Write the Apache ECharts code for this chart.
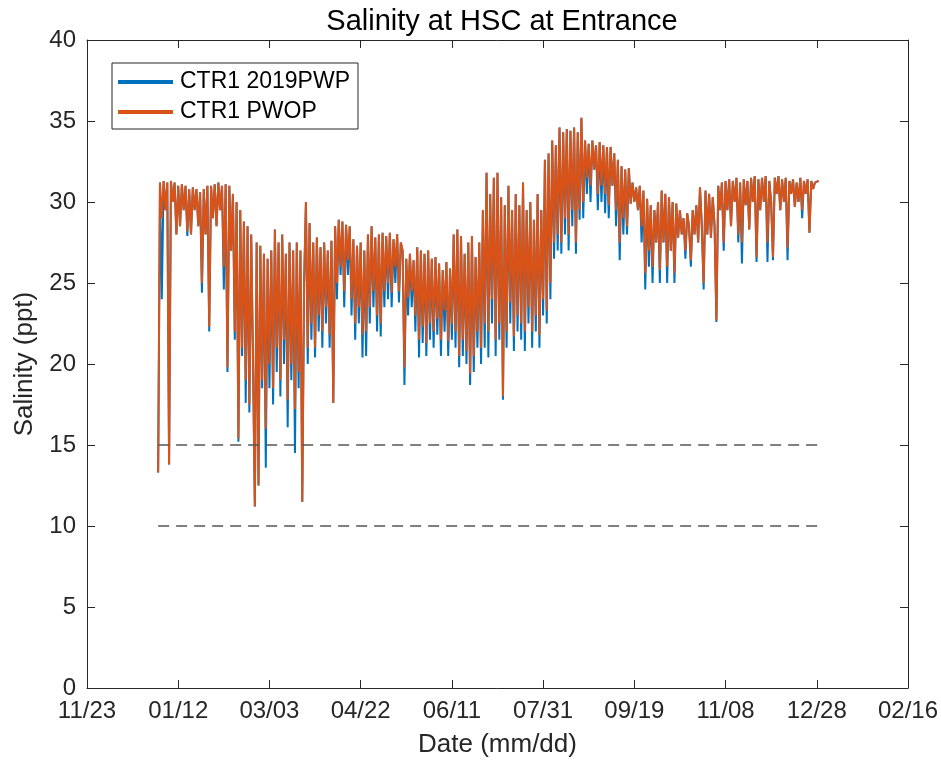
<!DOCTYPE html>
<html>
<head>
<meta charset="utf-8">
<script src="https://cdn.jsdelivr.net/npm/echarts@6/dist/echarts.min.js"></script>
<style>
html, body { margin: 0; padding: 0; background: #fff; }
#chart { width: 941px; height: 766px; }
</style>
</head>
<body>
<div id="chart"></div>
<script>
// x axis counts days from 11/23/2018, samples are daily from 01/01/2019
var axisStart = Date.UTC(2018, 10, 23);
var dataStartDay = 39;
var seriesNames = ['CTR1 2019PWP', 'CTR1 PWOP'];
var thresholds = [15, 10];
var thresholdSpan = [39, 401];

// CTR1 2019PWP (blue)
var pwpSalinity = [
    13.3, 31.2, 24.0, 31.3, 29.5, 31.2, 13.8, 31.3, 30.0, 31.2,
    28.0, 31.0, 28.5, 31.1, 29.5, 31.0, 27.9, 30.8, 28.0, 30.9,
    29.5, 30.8, 28.5, 30.6, 24.4, 30.8, 28.0, 31.0, 22.0, 31.0,
    29.0, 31.1, 28.5, 31.2, 29.5, 31.0, 24.6, 31.1, 19.5, 31.0,
    27.0, 30.5, 21.5, 30.0, 15.2, 29.5, 20.5, 28.8, 17.6, 28.5,
    17.0, 28.0, 20.0, 11.2, 27.5, 12.5, 27.3, 18.5, 26.8, 13.6,
    26.5, 18.5, 27.0, 17.5, 28.3, 19.5, 27.5, 18.0, 28.0, 20.0,
    26.8, 16.1, 27.5, 19.0, 27.0, 14.5, 27.5, 18.5, 27.0, 11.5,
    25.0, 30.0, 20.0, 28.7, 21.5, 27.5, 20.4, 27.8, 22.0, 27.2,
    21.0, 27.5, 22.5, 27.0, 21.0, 27.6, 17.6, 28.5, 24.0, 28.9,
    25.5, 28.8, 23.5, 28.6, 25.5, 28.5, 23.0, 27.7, 21.5, 27.3,
    22.5, 27.5, 20.4, 27.0, 20.5, 28.0, 22.5, 28.5, 23.5, 27.8,
    22.0, 28.0, 21.7, 28.1, 23.5, 27.9, 24.0, 28.1, 23.5, 27.7,
    25.0, 28.0, 23.8, 27.5, 27.0, 18.7, 26.5, 23.0, 26.8, 23.5,
    26.4, 22.0, 27.2, 20.4, 27.0, 21.3, 26.8, 20.5, 27.0, 21.5,
    26.5, 21.0, 26.6, 21.8, 26.2, 20.5, 25.8, 22.0, 26.3, 20.5,
    25.9, 21.5, 28.0, 21.0, 28.3, 19.8, 27.9, 20.5, 26.8, 20.0,
    27.5, 18.7, 27.9, 19.5, 26.6, 21.0, 27.5, 20.0, 29.5, 21.0,
    31.8, 20.4, 30.5, 22.5, 31.5, 20.5, 31.8, 21.5, 30.3, 17.8,
    29.8, 21.0, 31.0, 22.5, 29.5, 20.8, 30.5, 22.0, 29.8, 21.5,
    31.2, 20.8, 29.5, 22.5, 30.0, 21.0, 28.9, 22.0, 30.5, 21.0,
    29.5, 23.0, 32.6, 22.5, 33.0, 24.0, 33.8, 26.5, 33.5, 27.0,
    34.6, 26.8, 34.3, 28.0, 34.5, 27.0, 34.4, 28.5, 34.6, 26.8,
    34.3, 28.9, 35.2, 29.0, 33.8, 30.5, 33.6, 30.0, 33.8, 32.0,
    33.5, 29.5, 33.7, 30.0, 33.5, 29.3, 33.4, 29.0, 33.4, 31.0,
    33.0, 28.5, 32.6, 26.4, 32.2, 28.0, 32.0, 28.0, 32.1, 29.9,
    31.2, 30.0, 30.9, 29.5, 31.0, 27.5, 30.7, 24.6, 30.2, 26.0,
    29.8, 25.0, 29.5, 27.5, 30.0, 25.0, 30.7, 27.5, 30.5, 25.0,
    30.3, 27.0, 30.0, 25.0, 29.9, 27.8, 29.5, 28.0, 29.0, 26.5,
    29.3, 28.5, 26.0, 29.5, 28.0, 29.8, 27.5, 30.9, 28.5, 24.6,
    30.7, 28.0, 30.5, 27.8, 30.3, 28.5, 22.6, 31.0, 29.5, 31.2,
    27.0, 31.3, 29.5, 31.4, 28.5, 31.3, 30.0, 31.5, 27.5, 31.2,
    26.2, 31.4, 29.8, 31.3, 28.3, 31.5, 30.0, 31.6, 26.3, 31.4,
    29.5, 31.5, 30.0, 31.6, 26.3, 31.3, 30.0, 26.4, 31.5, 30.5,
    31.6, 29.5, 31.4, 30.0, 31.5, 26.4, 31.3, 30.5, 31.4, 29.7,
    31.2, 30.0, 31.5, 29.0, 31.3, 30.5, 31.4, 28.1, 31.3, 30.8,
    31.2, 31.3, 31.3
];

// CTR1 PWOP (orange)
var pwopSalinity = [
    13.3, 31.2, 29.0, 31.3, 29.5, 31.2, 13.8, 31.3, 30.0, 31.2,
    28.0, 31.0, 28.5, 31.1, 29.5, 31.0, 28.2, 30.8, 28.0, 30.9,
    29.5, 30.8, 28.5, 30.6, 25.0, 30.8, 28.0, 31.0, 22.3, 31.0,
    29.0, 31.1, 28.5, 31.2, 29.5, 31.0, 26.0, 31.1, 19.8, 31.0,
    27.0, 30.5, 22.0, 30.0, 15.4, 29.5, 21.0, 28.8, 19.0, 28.5,
    17.5, 28.0, 20.5, 11.2, 27.5, 12.5, 27.3, 19.0, 26.8, 16.0,
    26.5, 20.0, 27.0, 18.5, 28.3, 21.0, 27.5, 19.0, 28.0, 21.5,
    26.8, 17.8, 27.5, 20.0, 27.0, 17.2, 27.5, 19.5, 27.0, 11.5,
    25.0, 30.0, 21.0, 28.7, 22.5, 27.5, 21.0, 27.8, 23.0, 27.2,
    22.0, 27.5, 23.5, 27.0, 21.8, 27.6, 17.6, 28.5, 25.0, 28.9,
    26.0, 28.8, 24.5, 28.6, 26.4, 28.5, 24.0, 27.7, 22.5, 27.3,
    23.5, 27.5, 21.8, 27.0, 22.0, 28.0, 23.5, 28.5, 24.5, 27.8,
    23.0, 28.0, 22.5, 28.1, 24.5, 27.9, 25.0, 28.1, 24.4, 27.7,
    26.0, 28.0, 24.5, 27.5, 27.0, 19.8, 26.5, 24.1, 26.8, 24.5,
    26.4, 23.0, 27.2, 21.5, 27.0, 22.3, 26.8, 21.3, 27.0, 22.5,
    26.5, 22.0, 26.6, 22.8, 26.2, 21.5, 25.8, 23.3, 26.3, 21.4,
    25.9, 22.5, 28.0, 22.0, 28.3, 20.5, 27.9, 21.5, 26.8, 20.8,
    27.5, 19.4, 27.9, 20.5, 26.6, 22.0, 27.5, 21.0, 29.5, 22.5,
    31.8, 22.0, 30.5, 24.0, 31.5, 21.5, 31.8, 22.5, 30.3, 18.0,
    29.8, 22.0, 31.0, 23.8, 29.5, 21.7, 30.5, 23.0, 29.8, 22.5,
    31.2, 22.0, 29.5, 23.5, 30.0, 22.0, 28.9, 23.0, 30.5, 21.8,
    29.5, 24.0, 32.6, 23.3, 33.0, 25.0, 33.8, 27.5, 33.5, 28.0,
    34.6, 27.5, 34.3, 29.0, 34.5, 28.0, 34.4, 29.5, 34.6, 27.5,
    34.3, 29.5, 35.2, 30.0, 33.8, 31.5, 33.6, 31.0, 33.8, 32.0,
    33.5, 30.5, 33.7, 31.0, 33.5, 30.5, 33.4, 29.8, 33.4, 31.0,
    33.0, 29.5, 32.6, 27.5, 32.2, 29.0, 32.0, 28.5, 32.1, 29.9,
    31.2, 30.0, 30.9, 29.5, 31.0, 28.5, 30.7, 25.6, 30.2, 27.0,
    29.8, 26.0, 29.5, 27.5, 30.0, 25.8, 30.7, 27.5, 30.5, 26.0,
    30.3, 27.0, 30.0, 25.6, 29.9, 27.8, 29.5, 28.0, 29.0, 27.0,
    29.3, 28.5, 26.4, 29.5, 28.0, 29.8, 27.5, 30.9, 28.5, 25.0,
    30.7, 28.0, 30.5, 27.8, 30.3, 28.5, 22.7, 31.0, 29.5, 31.2,
    27.5, 31.3, 29.5, 31.4, 28.5, 31.3, 30.0, 31.5, 28.0, 31.2,
    27.5, 31.4, 29.8, 31.3, 28.3, 31.5, 30.0, 31.6, 26.6, 31.4,
    29.5, 31.5, 30.0, 31.6, 27.5, 31.3, 30.0, 26.6, 31.5, 30.5,
    31.6, 29.5, 31.4, 30.0, 31.5, 27.2, 31.3, 30.5, 31.4, 29.7,
    31.2, 30.0, 31.5, 29.5, 31.3, 30.5, 31.4, 28.1, 31.3, 30.8,
    31.2, 31.3, 31.3
];

function pad(n) { return (n < 10 ? '0' : '') + n; }
function dayLabel(v) {
    var d = new Date(axisStart + v * 86400000);
    return pad(d.getUTCMonth() + 1) + '/' + pad(d.getUTCDate());
}
function toPoints(arr) {
    var pts = [];
    for (var i = 0; i < arr.length; i++) {
        pts.push([dataStartDay + i, arr[i]]);
    }
    return pts;
}

var font = 'Liberation Sans, Arial, sans-serif';
var axisColor = '#262626';

var series = [
    {
        name: seriesNames[0], type: 'line', data: toPoints(pwpSalinity),
        symbol: 'none', color: '#0072BD',
        lineStyle: { width: 2, color: '#0072BD' }
    },
    {
        name: seriesNames[1], type: 'line', data: toPoints(pwopSalinity),
        symbol: 'none', color: '#D95319',
        lineStyle: { width: 2, color: '#D95319' }
    }
];
thresholds.forEach(function (t) {
    series.push({
        type: 'line', silent: true, symbol: 'none',
        data: [[thresholdSpan[0], t], [thresholdSpan[1], t]],
        lineStyle: { color: '#555555', width: 1.5, type: [11, 7] }
    });
});

function tickStyle() {
    return { show: true, inside: true, length: 8, lineStyle: { color: axisColor } };
}
function lineStyle() {
    return { show: true, onZero: false, lineStyle: { color: axisColor, width: 1 } };
}

var option = {
    animation: false,
    backgroundColor: '#fff',
    title: {
        text: 'Salinity at HSC at Entrance',
        left: 497, top: 2, textAlign: 'center',
        textStyle: { fontFamily: font, fontSize: 29, fontWeight: 'normal', color: '#000' }
    },
    legend: {
        data: seriesNames,
        orient: 'vertical',
        left: 112, top: 63,
        padding: [7, 8, 5, 6],
        itemGap: 6,
        itemWidth: 55, itemHeight: 4,
        icon: 'rect',
        borderColor: axisColor, borderWidth: 1,
        backgroundColor: '#fff',
        textStyle: { fontFamily: font, fontSize: 23, lineHeight: 24, color: '#000', padding: [0, 0, 0, 2] }
    },
    grid: { left: 87, right: 33, top: 40, bottom: 78 },
    xAxis: [
        {
            type: 'value', min: 0, max: 450, interval: 50, position: 'bottom',
            name: 'Date (mm/dd)', nameLocation: 'middle', nameGap: 44,
            nameTextStyle: { fontFamily: font, fontSize: 26, color: axisColor },
            axisLine: lineStyle(),
            axisTick: tickStyle(),
            axisLabel: { formatter: dayLabel, fontFamily: font, fontSize: 24, color: axisColor, margin: 11 },
            splitLine: { show: false }
        },
        {
            type: 'value', min: 0, max: 450, interval: 50, position: 'top',
            axisLine: lineStyle(),
            axisTick: tickStyle(), axisLabel: { show: false }, splitLine: { show: false }
        }
    ],
    yAxis: [
        {
            type: 'value', min: 0, max: 40, interval: 5, position: 'left',
            name: 'Salinity (ppt)', nameLocation: 'middle', nameGap: 49, nameRotate: 90,
            nameTextStyle: { fontFamily: font, fontSize: 26, color: axisColor },
            axisLine: lineStyle(),
            axisTick: tickStyle(),
            axisLabel: { fontFamily: font, fontSize: 24, color: axisColor, margin: 11 },
            splitLine: { show: false }
        },
        {
            type: 'value', min: 0, max: 40, interval: 5, position: 'right',
            axisLine: lineStyle(),
            axisTick: tickStyle(), axisLabel: { show: false }, splitLine: { show: false }
        }
    ],
    series: series
};

var chart = echarts.init(document.getElementById('chart'));
chart.setOption(option);
</script>
</body>
</html>
